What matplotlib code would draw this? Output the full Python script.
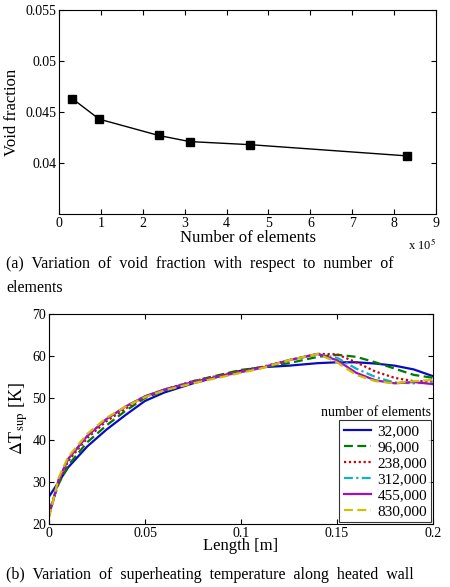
import matplotlib
matplotlib.use("Agg")
import matplotlib.pyplot as plt

plt.rcParams['font.family'] = ['Liberation Serif', 'DejaVu Serif']
plt.rcParams['mathtext.fontset'] = 'stix'

elements = [0.32, 0.96, 2.38, 3.12, 4.55, 8.3]
void = [0.0463, 0.0443, 0.0427, 0.0421, 0.0418, 0.0407]

xs = [0, .005, .01, .02, .03, .04, .05, .06, .075, .1, .11, .125, .14, .15, .16, .17, .18, .19, .2]
labels = ['32,000', '96,000', '238,000', '312,000', '455,000', '830,000']
t32 = [26.5, 30, 33.5, 38.5, 42.5, 46, 49.3, 51.3, 53.5, 56.5, 57.3, 57.7, 58.3, 58.5, 58.5, 58.2, 57.7, 56.8, 55.2]
t96 = [23, 29.5, 34, 39.5, 43.5, 47, 50, 51.8, 54, 56.7, 57.2, 58.3, 59.8, 60.3, 59.8, 58.5, 57, 55.5, 54.8]
t238 = [22, 30, 35, 40.5, 44.5, 47.5, 50.3, 52, 54, 56.5, 57.3, 59, 60.5, 60.4, 58.5, 56.3, 54.8, 54, 54]
t312 = [22, 30.5, 35.5, 41, 45, 48, 50.4, 52, 53.8, 56.2, 57.1, 59, 60.4, 59.6, 57, 55, 53.7, 53.5, 53.7]
t455 = [22, 30.5, 35.5, 41, 45, 48, 50.4, 52, 53.8, 56.2, 57.1, 59, 60.5, 59.0, 56, 54.2, 53.5, 53.8, 53.3]
t830 = [21.5, 31, 36, 41.5, 45.3, 48, 50.2, 51.8, 53.5, 56, 57, 59, 60.5, 58.5, 55.5, 54, 53.5, 54, 54.3]
series = [t32, t96, t238, t312, t455, t830]
colors = ['#0a0ac0', '#007a00', '#d00000', '#10b0c8', '#a010c0', '#d0c000']
styles = ['-', (0, (4, 2)), (0, (1, 1.2)), (0, (4, 1.5, 1, 1.5)), '-', (0, (4, 2))]

fig = plt.figure(figsize=(4.5, 5.87), dpi=100)
W, H = 450, 587

ax1 = fig.add_axes([59/W, 1-214/H, (436-59)/W, (214-10)/H])
ax1.plot(elements, void, 'k-', marker='s', ms=6, lw=1)
ax1.set_xlim(0, 9)
ax1.set_ylim(0.035, 0.055)
ax1.set_yticks([0.04, 0.045, 0.05, 0.055])
ax1.set_yticklabels(['0.04', '0.045', '0.05', '0.055'])
ax1.set_xticks(range(10))
ax1.set_xlabel('Number of elements', fontsize=12, labelpad=0)
ax1.set_ylabel('Void fraction', fontsize=12)
ax1.text(1.0, -0.115, r'x 10$^5$', transform=ax1.transAxes, ha='right', va='top', fontsize=9)
ax1.tick_params(direction='in', labelsize=10, top=True, right=True, pad=2)

ax2 = fig.add_axes([49/W, 1-524/H, (433-49)/W, (524-314)/H])
for y, lab, c, s in zip(series, labels, colors, styles):
    ax2.plot(xs, y, color=c, linestyle=s, lw=1.6, label=lab)
ax2.set_xlim(0, 0.2)
ax2.set_ylim(20, 70)
ax2.set_xticks([0, 0.05, 0.1, 0.15, 0.2])
ax2.set_xticklabels(['0', '0.05', '0.1', '0.15', '0.2'])
ax2.set_xlabel('Length [m]', fontsize=12, labelpad=-1)
ax2.set_ylabel(r'$\Delta$T$_{\mathrm{sup}}$ [K]', fontsize=13, labelpad=2)
ax2.tick_params(direction='in', labelsize=10, top=True, right=True, pad=2)
leg = ax2.legend(loc='lower right', fontsize=11, fancybox=False, edgecolor='k',
                 borderaxespad=0.1, handlelength=1.8, handletextpad=0.4,
                 labelspacing=0.15, borderpad=0.3)
leg.get_frame().set_linewidth(0.8)
ax2.text(0.995, 0.53, 'number of elements', transform=ax2.transAxes, ha='right', va='center', fontsize=10)

fig.text(6/W, 1-264/H, '(a)  Variation  of  void  fraction  with  respect  to  number  of', fontsize=11.5, va='center')
fig.text(6/W, 1-288/H, 'elements', fontsize=11.5, va='center')
fig.text(6/W, 1-575/H, '(b)  Variation  of  superheating  temperature  along  heated  wall', fontsize=11.5, va='center')

fig.savefig('out.png', dpi=100)
